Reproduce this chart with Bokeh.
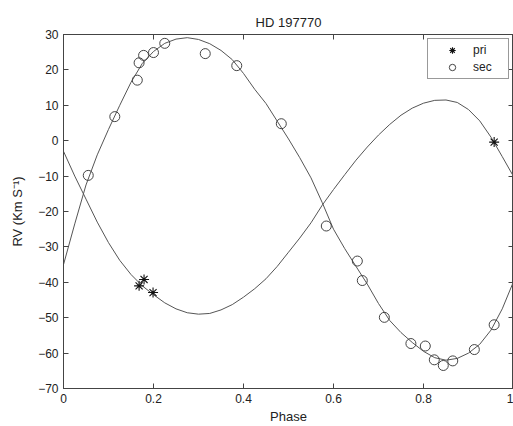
from bokeh.plotting import figure
from bokeh.models import LinearAxis, Range1d, FixedTicker, Legend, LegendItem
from bokeh.embed import file_html
from bokeh.resources import INLINE

# ---- data ----
model_phase = [0.000, 0.025, 0.050, 0.075, 0.100, 0.125, 0.150, 0.175, 0.200, 0.225,
               0.250, 0.275, 0.300, 0.325, 0.350, 0.375, 0.400, 0.425, 0.450, 0.475,
               0.500, 0.525, 0.550, 0.575, 0.600, 0.625, 0.650, 0.675, 0.700, 0.725,
               0.750, 0.775, 0.800, 0.825, 0.850, 0.875, 0.900, 0.925, 0.950, 0.975, 1.000]
pri_model = [-3.0, -10.0, -16.5, -23.0, -28.8, -33.8, -37.8, -41.0, -43.5, -45.8,
             -47.5, -48.6, -49.0, -48.8, -47.8, -46.3, -44.2, -41.8, -39.0, -35.5,
             -31.5, -27.5, -23.2, -18.2, -13.8, -9.6, -5.5, -1.8, 1.6, 4.6,
             7.2, 9.2, 10.6, 11.4, 11.5, 10.8, 8.8, 5.6, 1.0, -4.5, -10.1]
sec_model = [-35.0, -23.5, -12.5, -4.0, 3.2, 10.0, 16.5, 21.8, 25.2, 27.5,
             28.7, 29.1, 28.6, 27.4, 25.5, 22.9, 19.0, 14.5, 10.5, 5.5,
             0.5, -4.8, -10.5, -17.5, -25.0, -30.5, -35.5, -40.5, -46.0, -50.8,
             -54.2, -57.0, -59.5, -61.3, -62.0, -61.5, -60.0, -57.5, -53.5, -47.5, -39.8]

pri_phase = [0.168, 0.179, 0.199, 0.957]
pri_rv = [-41.0, -39.2, -42.9, -0.4]

sec_phase = [0.055, 0.114, 0.164, 0.168, 0.178, 0.200, 0.225, 0.315, 0.385, 0.484,
             0.584, 0.653, 0.664, 0.713, 0.772, 0.804, 0.824, 0.844, 0.865, 0.913, 0.957]
sec_rv = [-9.8, 6.8, 17.1, 22.0, 24.1, 24.9, 27.5, 24.6, 21.2, 4.8,
          -24.1, -34.0, -39.5, -49.9, -57.3, -58.0, -61.9, -63.5, -62.2, -59.0, -52.0]

x_ticks = [0, 0.2, 0.4, 0.6, 0.8, 1]
x_tick_labels = ["0", "0.2", "0.4", "0.6", "0.8", "1"]
y_ticks = [-70, -60, -50, -40, -30, -20, -10, 0, 10, 20, 30]
y_tick_labels = ["\u221270", "\u221260", "\u221250", "\u221240", "\u221230", "\u221220",
                 "\u221210", "0", "10", "20", "30"]

FONT = "Liberation Sans"
TXT = "#222222"
AX = "#444444"

p = figure(width=513, height=426, output_backend="svg", toolbar_location=None,
           x_range=Range1d(0, 1), y_range=Range1d(-70, 30),
           min_border_left=63, min_border_right=0, min_border_top=34, min_border_bottom=36,
           title="HD 197770")
p.background_fill_color = "white"
p.border_fill_color = "white"
p.grid.visible = False
p.outline_line_color = AX

p.title.align = "center"
p.title.text_font = FONT
p.title.text_font_size = "13px"
p.title.text_font_style = "normal"
p.title.text_color = TXT
p.title.standoff = 10

def style_axis(ax, labels=True):
    ax.axis_line_color = AX
    ax.major_tick_line_color = AX
    ax.major_tick_in = 5
    ax.major_tick_out = 0
    ax.minor_tick_line_color = None
    ax.major_label_text_font = FONT
    ax.axis_label_text_font = FONT
    ax.axis_label_text_color = TXT
    ax.axis_label_text_font_style = "normal"
    if labels:
        ax.major_label_text_color = TXT
        ax.major_label_text_font_size = "12px"
        ax.axis_label_text_font_size = "13px"
    else:
        ax.major_label_text_color = None
        ax.major_label_text_alpha = 0
        ax.major_label_text_font_size = "0px"
        ax.major_label_standoff = 0

xax = p.xaxis[0]
yax = p.yaxis[0]
xax.ticker = FixedTicker(ticks=x_ticks)
xax.major_label_overrides = dict(zip(x_ticks, x_tick_labels))
yax.ticker = FixedTicker(ticks=y_ticks)
yax.major_label_overrides = dict(zip(y_ticks, y_tick_labels))
style_axis(xax)
style_axis(yax)
xax.axis_label = "Phase"
xax.major_label_standoff = 5
xax.axis_label_standoff = 3
yax.axis_label = "RV (Km S\u207b\u00b9)"
yax.major_label_standoff = 5
yax.axis_label_standoff = 10

top_ax = LinearAxis(ticker=FixedTicker(ticks=x_ticks))
style_axis(top_ax, labels=False)
p.add_layout(top_ax, "above")
right_ax = LinearAxis(ticker=FixedTicker(ticks=y_ticks))
style_axis(right_ax, labels=False)
p.add_layout(right_ax, "right")

p.line(model_phase, pri_model, line_color="#555555", line_width=1)
p.line(model_phase, sec_model, line_color="#555555", line_width=1)

r_pri = p.scatter(pri_phase, pri_rv, marker="asterisk", size=10,
                  line_color="#111111", line_width=1.1)
r_sec = p.scatter(sec_phase, sec_rv, marker="circle", size=10,
                  line_color="#444444", fill_color=None, line_width=1)

legend = Legend(items=[LegendItem(label="pri", renderers=[r_pri]),
                       LegendItem(label="sec", renderers=[r_sec])],
                location="top_right")
legend.margin = 4
legend.padding = 3
legend.spacing = 1
legend.glyph_width = 42
legend.glyph_height = 16
legend.label_standoff = 0
legend.label_width = 32
legend.label_text_font = FONT
legend.label_text_font_size = "12px"
legend.label_text_color = TXT
legend.border_line_color = "#333333"
legend.border_line_width = 1
legend.background_fill_color = "white"
legend.background_fill_alpha = 1
p.add_layout(legend, "center")

open("out.html", "w").write(file_html(p, INLINE))
